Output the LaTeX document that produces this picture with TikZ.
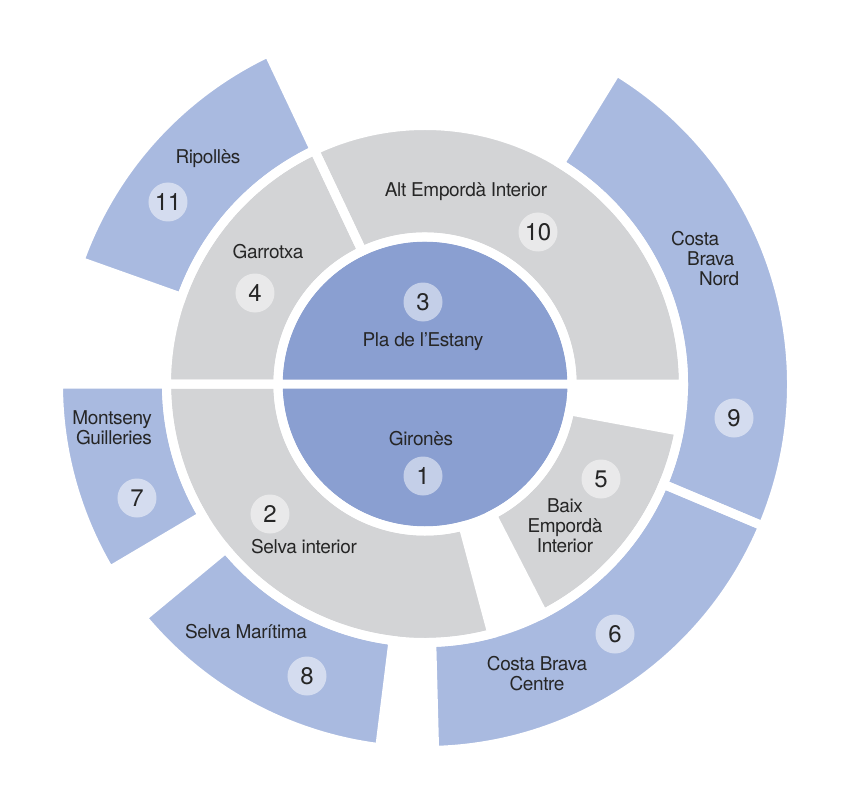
\documentclass[tikz,border=0pt]{standalone}
\usepackage{fontspec}
\setmainfont[LetterSpace=-2]{TeX Gyre Heros}
\usepackage{tikz}
\definecolor{inblue}{HTML}{8A9FD1}
\definecolor{outblue}{HTML}{A9BAE0}
\definecolor{midgray}{HTML}{D3D4D6}
\definecolor{ink}{HTML}{262626}
\tikzset{
	lbl/.style = {text = ink, font = \fontsize{19}{20}\selectfont, inner sep = 0pt},
	num/.style = {circle, fill = white, fill opacity = .5, text opacity = 1, text = ink, minimum size = 39pt, inner sep = 0pt, font = \fontsize{24}{24}\selectfont},
	gap/.style = {draw = white, line width = 9pt}
}

\begin{document}
\begin{tikzpicture}[x = 1pt, y = 1pt]
		\useasboundingbox (-425, -422) rectangle (425, 384);
		\def\parts{0/115.3/147/258.5/midgray, 115.3/180/147/258.5/midgray, 180/285/147/258.5/midgray, -62.8/-10.5/147/258.5/midgray,
			115.3/160.4/258.5/366.5/outblue, 180/210.6/258.5/366.5/outblue, 219.6/262.9/258.5/366.5/outblue, 271.5/337.2/258.5/366.5/outblue, -22.8/58.5/258.5/366.5/outblue}
		\fill[inblue] (0, 0) circle (147pt);
		\foreach \a/\b/\r/\R/\c in \parts
			\fill[\c] (\a:\r pt) -- (\a:\R pt) arc[start angle = \a, end angle = \b, radius = \R pt] -- (\b:\r pt) arc[start angle = \b, end angle = \a, radius = \r pt] -- cycle;
		\draw[gap] (0, 0) circle (147pt) (180:147pt) -- (0:147pt);
		\foreach \a/\b/\r/\R/\c in \parts
			\draw[gap] (\a:\r pt) -- (\a:\R pt) arc[start angle = \a, end angle = \b, radius = \R pt] -- (\b:\r pt) arc[start angle = \b, end angle = \a, radius = \r pt] -- cycle;

		\node[num] (num3) at (-2, 82) {3};
		\node[lbl] (estany) at (-2, 42) {Pla de l’Estany};
		\node[lbl] (girones) at (-4, -55) {Gironès};
		\node[num] (num1) at (-2, -92) {1};
		\node[lbl] (altemp) at (41, 192) {Alt Empordà Interior};
		\node[num] (num10) at (113, 152) {10};
		\node[lbl, align = left, anchor = west] (cbnord) at (246, 125) {Costa\\\hspace{16pt}Brava\\\hspace{28pt}Nord};
		\node[num] (num9) at (309, -34) {9};
		\node[lbl] (ripolles) at (-217, 225) {Ripollès};
		\node[num] (num11) at (-257, 182) {11};
		\node[lbl] (garrotxa) at (-157, 132) {Garrotxa};
		\node[num] (num4) at (-170, 91) {4};
		\node[lbl, align = right, anchor = east] (montseny) at (-273, -43.5) {Montseny\\Guilleries};
		\node[num] (num7) at (-288, -114) {7};
		\node[num] (num2) at (-155, -130) {2};
		\node[lbl] (selvaint) at (-121, -163) {Selva interior};
		\node[lbl] (selvamar) at (-179, -248) {Selva Marítima};
		\node[num] (num8) at (-118, -292) {8};
		\node[num] (num5) at (176, -95) {5};
		\node[lbl, align = center] (baixemp) at (140, -142) {Baix\\Empordà\\Interior};
		\node[num] (num6) at (190, -250) {6};
		\node[lbl, align = center] (cbcentre) at (112, -289.5) {Costa Brava\\Centre};

	\end{tikzpicture}
\end{document}
